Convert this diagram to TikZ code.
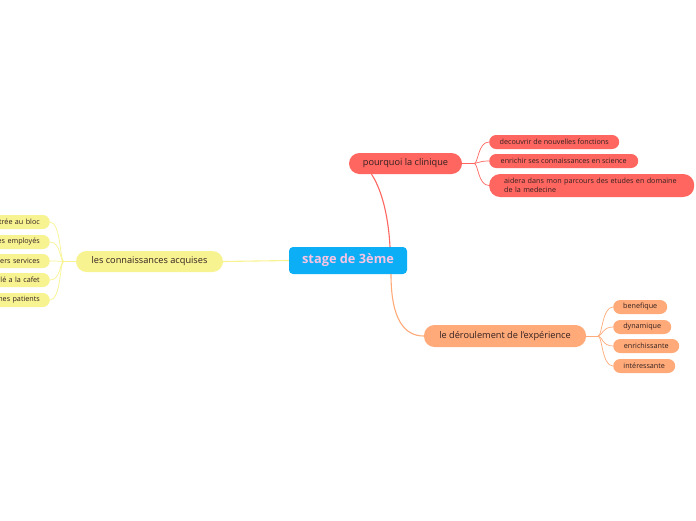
\documentclass[tikz,border=0pt]{standalone}
\usepackage{fontspec}
\setmainfont{Open Sans}
\usetikzlibrary{positioning, calc}
\definecolor{keyblue}{RGB}{12, 175, 246}
\definecolor{keypink}{RGB}{247, 196, 228}
\definecolor{keyred}{RGB}{255, 102, 96}
\definecolor{keyorange}{RGB}{255, 170, 120}
\definecolor{keyyellow}{RGB}{248, 243, 145}
\definecolor{keytext}{RGB}{50, 32, 32}

\begin{document}
\begin{tikzpicture}[x=1pt, y=-1pt,
    topic/.style={fill=keyblue, text=keypink, rounded corners=4pt, inner sep=0pt,
      minimum width=118pt, minimum height=27pt, font=\fontsize{12.8}{14}\selectfont\bfseries},
    branch/.style={rounded corners=10.5pt, inner sep=0pt, minimum height=21pt,
      text=keytext, font=\fontsize{9.2}{11}\selectfont},
    leaf/.style={rounded corners=7pt, inner xsep=4pt, inner ysep=0pt, minimum height=14pt,
      text=keytext, font=\fontsize{7.2}{8}\selectfont}]
  \useasboundingbox[fill=white] (0,0) rectangle (696,520);

  % centre
  \node[topic] (center) at (348,260.5) {stage de 3ème};

  % main branches
  \node[branch, fill=keyred, minimum width=113pt] (why) at (405.5,163.5) {pourquoi la clinique};
  \node[branch, fill=keyorange, minimum width=162pt, minimum height=22pt] (how) at (505,336) {le déroulement de l'expérience};
  \node[branch, fill=keyyellow, minimum width=147pt] (known) at (149.5,261.5) {les connaissances acquises};

  \draw[keyred, line width=1.1pt] ([xshift=42pt]center.north) .. controls +(-2,-37) and +(8,12) .. ([xshift=-34pt]why.south);
  \draw[keyorange, line width=1.1pt] ([xshift=43pt]center.south) .. controls +(0,46) and +(-19,0) .. (how.west);
  \draw[keyyellow, line width=1.1pt] (center.west) -- (known.east);

  % pourquoi la clinique
  \node[leaf, fill=keyred, anchor=west, minimum width=130pt] (why1) at (489,142) {decouvrir de nouvelles fonctions};
  \node[leaf, fill=keyred, anchor=west, minimum width=149pt] (why2) at (489,161) {enrichir ses connaissances en science};
  \node[leaf, fill=keyred, anchor=west, text width=175pt, inner xsep=15pt, minimum height=23pt,
        rounded corners=11pt, align=left, font=\fontsize{7.2}{9.5}\selectfont] (why3) at (489,185.5)
        {aidera dans mon parcours des etudes en domaine\\de la medecine};
  \draw[keyred, line width=0.7pt] (why.east) -- ++(12,0) coordinate (whyfork);
  \foreach \n in {1,2,3}
    \draw[keyred, line width=0.7pt] (whyfork) .. controls +(4,0) and +(-11,0) .. (why\n.west);

  % le deroulement de l'experience
  \node[leaf, fill=keyorange, anchor=west, minimum width=54pt] (how1) at (613,307) {benefique};
  \node[leaf, fill=keyorange, anchor=west, minimum width=58pt] (how2) at (613,327) {dynamique};
  \node[leaf, fill=keyorange, anchor=west, minimum width=66pt] (how3) at (613,346) {enrichissante};
  \node[leaf, fill=keyorange, anchor=west, minimum width=62pt] (how4) at (613,366) {intéressante};
  \draw[keyorange, line width=0.7pt] (how.east) -- ++(12,0) coordinate (howfork);
  \foreach \n in {1,...,4}
    \draw[keyorange, line width=0.7pt] (howfork) .. controls +(4,0) and +(-11,0) .. (how\n.west);

  % les connaissances acquises
  \foreach \n/\y/\txt in {1/222/trée au bloc, 2/242/es employés, 3/261/ers services,
                          4/280/llé a la cafet, 5/300/nes patients}
    \node[leaf, fill=keyyellow, anchor=east, text width=80pt, align=right, inner xsep=10pt]
      (known\n) at (50,\y) {\txt};
  \draw[keyyellow, line width=0.7pt] (known.west) -- ++(-12,0) coordinate (knownfork);
  \foreach \n in {1,...,5}
    \draw[keyyellow, line width=0.7pt] (knownfork) .. controls +(-4,0) and +(11,0) .. (known\n.east);
\end{tikzpicture}
\end{document}
